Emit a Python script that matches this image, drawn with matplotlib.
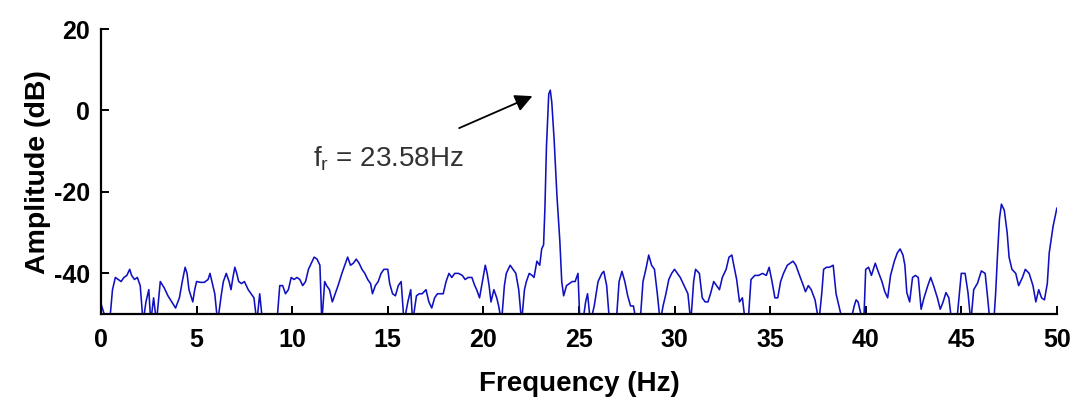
import matplotlib
matplotlib.use('Agg')
import matplotlib.pyplot as plt

plt.rcParams['font.family'] = ['Liberation Sans', 'DejaVu Sans']
plt.rcParams['mathtext.fontset'] = 'custom'
plt.rcParams['mathtext.rm'] = 'Liberation Sans'
plt.rcParams['mathtext.it'] = 'Liberation Sans'
plt.rcParams['axes.unicode_minus'] = False

# ============================== data ==============================
freq = [
    0.0, 0.2, 0.45, 0.6, 0.75, 0.9, 1.05, 1.2, 1.35, 1.5,
    1.6, 1.75, 1.9, 2.05, 2.2, 2.35, 2.5, 2.6, 2.75, 2.9,
    3.1, 3.3, 3.5, 3.7, 3.9, 4.1, 4.25, 4.4, 4.5, 4.6,
    4.8, 4.9, 5.0, 5.2, 5.4, 5.6, 5.7, 5.85, 5.95, 6.1,
    6.3, 6.4, 6.55, 6.7, 6.8, 6.9, 7.0, 7.1, 7.2, 7.35,
    7.5, 7.6, 7.7, 7.85, 8.0, 8.15, 8.3, 8.45, 8.7, 9.0,
    9.2, 9.35, 9.5, 9.65, 9.8, 9.95, 10.1, 10.25, 10.4, 10.55,
    10.7, 10.85, 11.0, 11.15, 11.3, 11.45, 11.55, 11.7, 11.8, 11.95,
    12.1, 12.25, 12.4, 12.6, 12.75, 12.9, 13.05, 13.2, 13.35, 13.5,
    13.65, 13.8, 13.95, 14.1, 14.2, 14.35, 14.5, 14.65, 14.8, 15.0,
    15.1, 15.25, 15.4, 15.55, 15.7, 15.85, 16.05, 16.2, 16.3, 16.5,
    16.65, 16.8, 17.0, 17.15, 17.3, 17.45, 17.6, 17.75, 17.9, 18.05,
    18.2, 18.35, 18.5, 18.7, 18.9, 19.05, 19.2, 19.4, 19.55, 19.65,
    19.8, 19.95, 20.1, 20.2, 20.3, 20.4, 20.55, 20.7, 20.8, 20.95,
    21.1, 21.2, 21.4, 21.55, 21.7, 21.85, 22.0, 22.15, 22.25, 22.4,
    22.55, 22.65, 22.8, 22.95, 23.05, 23.15, 23.22, 23.3, 23.42, 23.5,
    23.58, 23.7, 23.85, 24.0, 24.1, 24.2, 24.35, 24.5, 24.65, 24.8,
    24.95, 25.05, 25.2, 25.35, 25.45, 25.6, 25.8, 26.0, 26.2, 26.3,
    26.45, 26.6, 26.8, 26.95, 27.1, 27.25, 27.4, 27.55, 27.7, 27.85,
    28.0, 28.2, 28.35, 28.5, 28.65, 28.8, 28.95, 29.1, 29.25, 29.4,
    29.55, 29.7, 29.85, 30.0, 30.15, 30.3, 30.5, 30.7, 30.85, 31.0,
    31.1, 31.3, 31.45, 31.6, 31.75, 31.9, 32.05, 32.2, 32.35, 32.5,
    32.7, 32.85, 33.0, 33.1, 33.25, 33.4, 33.55, 33.7, 33.85, 34.0,
    34.2, 34.4, 34.6, 34.8, 34.95, 35.1, 35.25, 35.4, 35.55, 35.7,
    35.9, 36.05, 36.2, 36.35, 36.5, 36.7, 36.85, 37.0, 37.15, 37.35,
    37.55, 37.7, 37.8, 37.95, 38.1, 38.3, 38.45, 38.6, 38.8, 39.0,
    39.2, 39.4, 39.5, 39.6, 39.75, 39.9, 40.0, 40.15, 40.3, 40.5,
    40.65, 40.85, 41.0, 41.15, 41.3, 41.5, 41.65, 41.8, 41.95, 42.05,
    42.15, 42.3, 42.45, 42.6, 42.75, 42.9, 43.05, 43.25, 43.4, 43.55,
    43.75, 43.9, 44.05, 44.2, 44.35, 44.5, 44.65, 44.8, 45.0, 45.2,
    45.35, 45.5, 45.65, 45.85, 46.05, 46.25, 46.4, 46.5, 46.7, 46.8,
    46.9, 47.0, 47.1, 47.25, 47.4, 47.5, 47.65, 47.85, 48.0, 48.2,
    48.35, 48.55, 48.75, 48.9, 49.05, 49.2, 49.35, 49.5, 49.6, 49.8,
    50.0,
]
amp_db = [
    -47.5, -50.5, -52, -44, -41, -41.5, -42, -41, -40.5, -39,
    -40.5, -41.5, -41, -43, -52, -47, -44, -52, -46, -52,
    -42, -43.5, -45.5, -47, -48.5, -46, -42, -38.5, -40, -44,
    -47, -44, -42, -42.2, -42.2, -41.5, -40, -43, -45, -52,
    -45, -42, -40, -42, -44, -41, -38.5, -40, -42, -42.5,
    -42, -43, -44, -45, -46, -52, -45, -52, -52, -52,
    -52, -43, -43, -45, -44, -41, -41.5, -41, -41.5, -43,
    -42, -39, -37.5, -36, -36.5, -38, -52, -42, -43, -44,
    -47, -45, -43, -40, -38, -36, -38, -37.5, -36.5, -37.5,
    -39, -40, -41.5, -42.5, -45, -43, -42, -40, -39, -39,
    -42.5, -45, -45.5, -43, -42, -52, -47, -44, -52, -45.5,
    -45, -45, -44, -47, -48.5, -46, -45, -45, -45, -42,
    -40, -41, -40, -40, -40.5, -41.5, -41, -41, -43, -44,
    -46, -42, -38, -40, -43, -47, -44, -46, -48, -52,
    -43, -40, -38, -39, -40, -44, -52, -44, -42, -40,
    -40.5, -41, -37, -38, -34, -33, -24, -9, 4, 5,
    2, -7, -21, -32, -42, -45.5, -43, -42.5, -42, -42,
    -40, -52, -52, -47, -45, -52, -48, -42, -40, -39.5,
    -43, -52, -52, -52, -42, -39.5, -42, -45.5, -48, -48,
    -52, -52, -42, -39, -35.5, -38, -39, -45, -52, -48,
    -45, -41.5, -40, -39, -40, -41, -43, -45, -52, -42,
    -39, -40, -46, -47, -47, -44.7, -42, -43, -44, -41,
    -39, -36, -35.5, -38, -41.5, -47, -46, -52, -52, -41.5,
    -40.5, -40.5, -40, -40.5, -38.5, -42, -46, -46, -42, -40,
    -38, -37.5, -37, -38, -40, -42.5, -44.5, -43, -44, -46.5,
    -52, -45, -39, -38.5, -38.5, -38, -45, -48, -52, -52,
    -52, -48, -46.5, -47, -50, -52, -39, -38.5, -40.5, -37.5,
    -39.5, -42, -44.5, -46, -40.5, -37, -35, -34, -35.5, -38,
    -44.7, -47, -41, -40.5, -41, -48.8, -46, -43, -41, -43,
    -46, -48.8, -47, -44.7, -46, -52, -52, -50, -40, -40,
    -44.7, -52, -44, -42.4, -39.4, -40, -47, -52, -52, -44.7,
    -35, -26.5, -23, -24.5, -30, -36, -39, -40, -43, -41,
    -39, -40, -43, -47, -44, -46, -46.5, -42.5, -35, -28.5,
    -24,
]
x_ticks = [0, 5, 10, 15, 20, 25, 30, 35, 40, 45, 50]
y_ticks = [-40, -20, 0, 20]
peak_label = r'f$_\mathrm{r}$ = 23.58Hz'

assert len(freq) == len(amp_db)

# ============================== plot ==============================
fig = plt.figure(figsize=(10.77, 4.09), dpi=100)
ax = fig.add_axes([0.0938, 0.232, 0.8875, 0.697])

ax.plot(freq, amp_db, color='#1010c0', lw=1.15)

ax.set_xlim(0, 50)
ax.set_ylim(-50, 20)
ax.set_xticks(x_ticks)
ax.set_yticks(y_ticks)

for side in ['top', 'right']:
    ax.spines[side].set_visible(False)
for side in ['left', 'bottom']:
    ax.spines[side].set_linewidth(1.6)
ax.tick_params(direction='in', length=6, width=1.4, labelsize=18, pad=8)
ax.tick_params(axis='x', pad=10)
for lab in ax.get_xticklabels() + ax.get_yticklabels():
    lab.set_fontweight('bold')

ax.set_xlabel('Frequency (Hz)', fontsize=20, fontweight='bold', labelpad=14)
ax.set_ylabel('Amplitude (dB)', fontsize=20.5, fontweight='bold', labelpad=2)

# annotation
ax.annotate('', xy=(22.7, 3.8), xytext=(18.6, -4.6),
            arrowprops=dict(arrowstyle='-|>', color='k', lw=1.3, mutation_scale=26))
ax.text(11.1, -11.8, peak_label, fontsize=20, color='#333333', va='center', ha='left')

fig.savefig('out.png', dpi=100)
